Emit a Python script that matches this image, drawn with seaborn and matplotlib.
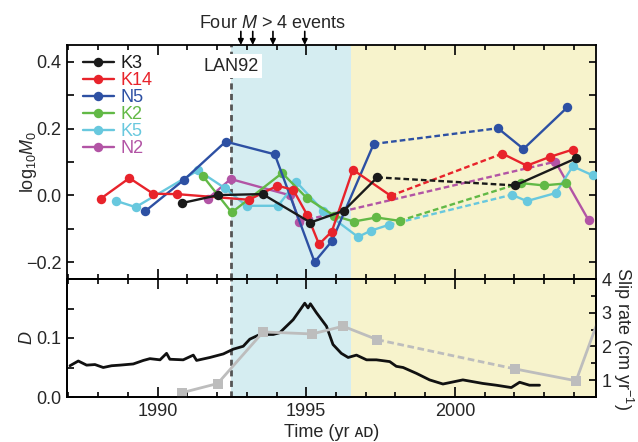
import numpy as np
import pandas as pd
import matplotlib
matplotlib.use("Agg")
import matplotlib.pyplot as plt
import matplotlib.transforms as mtransforms
from matplotlib.ticker import MultipleLocator, FixedLocator
import seaborn as sns

# ---------------- data ----------------
K3_year = [1990.81, 1992.04, 1993.53, 1995.14, 1996.26, 1997.39, 2002.03, 2004.08]
K3_logm = [-0.023, 0.001, 0.004, -0.081, -0.046, 0.054, 0.030, 0.111]
K3_gap = 6

K14_year = [1988.08, 1989.05, 1989.85, 1990.64, 1993.07, 1994.03, 1994.56, 1995.03,
            1995.43, 1995.86, 1996.57, 1997.84, 2001.60, 2002.42, 2003.19, 2003.96]
K14_logm = [-0.010, 0.052, 0.005, 0.004, -0.013, 0.029, 0.017, -0.058,
            -0.146, -0.108, 0.077, -0.001, 0.125, 0.089, 0.115, 0.137]
K14_gap = 12

N5_year = [1989.57, 1990.89, 1992.29, 1993.94, 1995.28, 1995.86, 1997.27, 2001.45, 2002.31, 2003.79]
N5_logm = [-0.048, 0.047, 0.161, 0.123, -0.199, -0.137, 0.154, 0.201, 0.139, 0.264]
N5_gap = 7

K2_year = [1991.53, 1992.49, 1994.19, 1995.02, 1995.95, 1996.60, 1997.36, 1998.14,
           2002.21, 2002.99, 2003.75]
K2_logm = [0.057, -0.051, 0.067, -0.008, -0.061, -0.078, -0.066, -0.076,
           0.037, 0.030, 0.036]
K2_gap = 8

K5_year = [1988.59, 1989.26, 1991.36, 1992.26, 1992.99, 1994.05, 1994.67, 1995.57,
           1996.74, 1997.19, 1997.78, 2001.92, 2002.42, 2003.39, 2003.97, 2004.64]
K5_logm = [-0.016, -0.035, 0.075, 0.022, -0.031, -0.031, 0.040, -0.046,
           -0.124, -0.105, -0.088, 0.002, -0.017, 0.007, 0.087, 0.060]
K5_gap = 11

N2_year = [1991.68, 1992.46, 1994.47, 1994.76, 2003.38, 2004.50]
N2_logm = [-0.010, 0.049, 0.000, -0.078, 0.101, -0.074]
N2_gap = 4

D_year = [1987.05, 1987.33, 1987.61, 1987.89, 1988.17, 1988.45, 1988.73, 1989.18,
          1989.52, 1989.74, 1990.08, 1990.30, 1990.41, 1990.86, 1991.20, 1991.31,
          1991.76, 1992.21, 1992.54, 1992.88, 1993.10, 1993.44, 1993.89, 1994.11,
          1994.56, 1994.84, 1994.95, 1995.06, 1995.14, 1995.34, 1995.68, 1995.90,
          1996.18, 1996.41, 1996.69, 1997.03, 1997.36, 1997.81, 1998.03, 1998.26,
          1998.71, 1999.15, 1999.60, 2000.27, 2000.94, 2001.39, 2001.90, 2002.18,
          2002.51, 2002.85]
D_val = [0.053, 0.061, 0.054, 0.055, 0.050, 0.053, 0.054, 0.056,
         0.062, 0.065, 0.063, 0.074, 0.064, 0.063, 0.071, 0.062,
         0.067, 0.073, 0.081, 0.086, 0.098, 0.106, 0.106, 0.109,
         0.131, 0.151, 0.159, 0.151, 0.158, 0.143, 0.120, 0.089,
         0.074, 0.067, 0.071, 0.063, 0.063, 0.060, 0.052, 0.050,
         0.040, 0.029, 0.022, 0.029, 0.023, 0.020, 0.016, 0.025,
         0.020, 0.020]

slip_year = [1990.83, 1992.02, 1993.55, 1995.20, 1996.24, 1997.39, 2002.04, 2004.08, 2005.00]
slip_rate = [0.63, 0.90, 2.43, 2.37, 2.60, 2.20, 1.33, 0.98, 3.20]
slip_gap = 6

LAN92_year = 1992.46
transient_end = 1996.51
event_years = [1992.80, 1993.20, 1993.88, 1994.95]

series_names = ["K3", "K14", "N5", "K2", "K5", "N2"]
series_data = {
    "K3": (K3_year, K3_logm, K3_gap),
    "K14": (K14_year, K14_logm, K14_gap),
    "N5": (N5_year, N5_logm, N5_gap),
    "K2": (K2_year, K2_logm, K2_gap),
    "K5": (K5_year, K5_logm, K5_gap),
    "N2": (N2_year, N2_logm, N2_gap),
}

# ---------------- style ----------------
sns.set_theme(style="ticks")
plt.rcParams["font.family"] = ["Liberation Sans", "DejaVu Sans"]
plt.rcParams["mathtext.fontset"] = "custom"
plt.rcParams["mathtext.rm"] = "Liberation Sans"
plt.rcParams["mathtext.it"] = "Liberation Sans:italic"
plt.rcParams["mathtext.bf"] = "Liberation Sans:bold"
plt.rcParams["axes.unicode_minus"] = True

colors = {"K3": "#1a1a1a", "K14": "#e8232b", "N5": "#2d50a3",
          "K2": "#62b946", "K5": "#68c8de", "N2": "#b254a5"}
blue_shade = "#d5edf1"
yellow_shade = "#f7f3cc"
gray = "#bdbdbd"
FS = 13

fig = plt.figure(figsize=(6.38, 4.42), dpi=100)
W, H = 638, 442
L, R, T, M, B = 67, 596, 45, 279, 397
ax1 = fig.add_axes([L / W, 1 - M / H, (R - L) / W, (M - T) / H])
ax2 = fig.add_axes([L / W, 1 - B / H, (R - L) / W, (B - M) / H])
xlim = (1986.95, 2004.75)

for ax in (ax1, ax2):
    ax.set_facecolor("white")
    ax.axvspan(LAN92_year, transient_end, color=blue_shade, lw=0, zorder=0)
    ax.axvspan(transient_end, xlim[1], color=yellow_shade, lw=0, zorder=0)
    ax.axvline(LAN92_year, color="#555555", lw=2.0, ls=(0, (2.2, 1.6)), zorder=1)
    ax.set_xlim(*xlim)
    for s in ax.spines.values():
        s.set_linewidth(1.3)
        s.set_color("black")
        s.set_visible(True)

# ---------------- top panel ----------------
lw = 1.7
ms = 6.8
for name in reversed(series_names):
    yrs, vals, gap = series_data[name]
    c = colors[name]
    df1 = pd.DataFrame({"year": yrs[:gap], "logm": vals[:gap]})
    df2 = pd.DataFrame({"year": yrs[gap:], "logm": vals[gap:]})
    dfd = pd.DataFrame({"year": yrs[gap - 1:gap + 1], "logm": vals[gap - 1:gap + 1]})
    if len(dfd) == 2:
        sns.lineplot(data=dfd, x="year", y="logm", ax=ax1, color=c, lw=lw,
                     ls=(0, (2.4, 1.3)), sort=False, estimator=None, zorder=2,
                     legend=False)
    sns.lineplot(data=df1, x="year", y="logm", ax=ax1, color=c, lw=lw, marker="o",
                 markersize=ms, markeredgewidth=0, sort=False, estimator=None,
                 label=name, zorder=3)
    if len(df2):
        sns.lineplot(data=df2, x="year", y="logm", ax=ax1, color=c, lw=lw, marker="o",
                     markersize=ms, markeredgewidth=0, sort=False, estimator=None,
                     zorder=3, legend=False)

h, l = ax1.get_legend_handles_labels()
hd = dict(zip(l, h))
leg = ax1.legend([hd[n] for n in series_names], series_names, loc="upper left",
                 bbox_to_anchor=(0.030, 0.957), frameon=False, fontsize=FS,
                 handlelength=1.7, handletextpad=0.4, labelspacing=0.0,
                 borderpad=0, borderaxespad=0, labelcolor="linecolor")

ax1.set_ylim(-0.25, 0.45)
ax1.yaxis.set_major_locator(FixedLocator([-0.2, 0.0, 0.2, 0.4]))
ax1.set_yticklabels(["\u22120.2", "0.0", "0.2", "0.4"])
ax1.yaxis.set_minor_locator(MultipleLocator(0.1))
ax1.xaxis.set_major_locator(FixedLocator([1990, 1995, 2000]))
ax1.xaxis.set_minor_locator(MultipleLocator(1))
ax1.tick_params(which="both", direction="in", top=True, bottom=True, left=True,
                right=True, labelbottom=False, labelsize=FS, width=1.2, color="black",
                pad=4)
ax1.tick_params(axis="x", which="major", length=7.5)
ax1.tick_params(axis="x", which="minor", length=3.5)
ax1.tick_params(axis="y", which="both", length=5)
ax1.set_xlabel("")
ax1.set_ylabel(r"log$_{10}$$M_0$", fontsize=FS, va="center", ha="center")
ax1.yaxis.set_label_coords(-0.072, 0.5)

trans1 = mtransforms.blended_transform_factory(ax1.transData, ax1.transAxes)
ax1.text(LAN92_year, 0.910, "LAN92", transform=trans1, ha="center", va="center",
         fontsize=FS, zorder=6, bbox=dict(fc="white", ec="none", pad=2.5))
for ey in event_years:
    ax1.annotate("", xy=(ey, 1.0), xytext=(ey, 1.058), xycoords=trans1,
                 textcoords=trans1, annotation_clip=False,
                 arrowprops=dict(arrowstyle="-|>", color="black", lw=1.2,
                                 mutation_scale=8, shrinkA=0, shrinkB=0))
ax1.text(1993.88, 1.09, "Four $M$ > 4 events", transform=trans1, ha="center",
         va="center", fontsize=FS)

# ---------------- bottom panel ----------------
dfD = pd.DataFrame({"year": D_year, "D": D_val})
sns.lineplot(data=dfD, x="year", y="D", ax=ax2, color="#111111", lw=2.0,
             sort=False, estimator=None, zorder=3)
ax2.set_ylim(0, 0.2)
ax2.yaxis.set_major_locator(FixedLocator([0.0, 0.1]))
ax2.set_yticklabels(["0.0", "0.1"])
ax2.yaxis.set_minor_locator(FixedLocator([0.05, 0.15]))
ax2.xaxis.set_major_locator(FixedLocator([1990, 1995, 2000]))
ax2.xaxis.set_minor_locator(MultipleLocator(1))
ax2.tick_params(which="both", direction="in", top=True, bottom=True, left=True,
                right=False, labelsize=FS, width=1.2, color="black", pad=4)
ax2.tick_params(axis="x", which="major", length=7.5)
ax2.tick_params(axis="x", which="minor", length=3.5)
ax2.tick_params(axis="y", which="both", length=5)
ax2.set_ylabel("$D$", fontsize=FS, va="center", ha="center")
ax2.yaxis.set_label_coords(-0.074, 0.5)
ax2.set_xlabel("Time (yr \u1d00\u1d05)", fontsize=FS, labelpad=3)

tw = ax2.twinx()
tw.set_xlim(*xlim)
dfs1 = pd.DataFrame({"year": slip_year[:slip_gap], "rate": slip_rate[:slip_gap]})
dfs2 = pd.DataFrame({"year": slip_year[slip_gap:], "rate": slip_rate[slip_gap:]})
dfsd = pd.DataFrame({"year": slip_year[slip_gap - 1:slip_gap + 1],
                     "rate": slip_rate[slip_gap - 1:slip_gap + 1]})
sns.lineplot(data=dfsd, x="year", y="rate", ax=tw, color=gray, lw=2.0,
             ls=(0, (2.4, 1.3)), sort=False, estimator=None, zorder=2)
for d in (dfs1, dfs2):
    sns.lineplot(data=d, x="year", y="rate", ax=tw, color=gray, lw=2.0, marker="s",
                 markersize=7.5, markeredgewidth=0, sort=False, estimator=None,
                 zorder=2)
tw.set_ylim(0.5, 4.0)
tw.yaxis.set_major_locator(FixedLocator([1, 2, 3, 4]))
tw.yaxis.set_minor_locator(MultipleLocator(0.5))
tw.tick_params(which="both", direction="in", right=True, labelsize=FS, width=1.2,
               color="black", pad=4)
tw.tick_params(which="major", length=5)
tw.tick_params(which="minor", length=3.5)
tw.set_xlabel("")
tw.set_ylabel("Slip rate (cm yr$^{\u22121}$)", fontsize=FS, rotation=270,
              va="center", ha="center")
tw.yaxis.set_label_coords(1.052, 0.5)
for s in tw.spines.values():
    s.set_linewidth(1.3)
    s.set_color("black")

fig.savefig("out.png", dpi=100)
